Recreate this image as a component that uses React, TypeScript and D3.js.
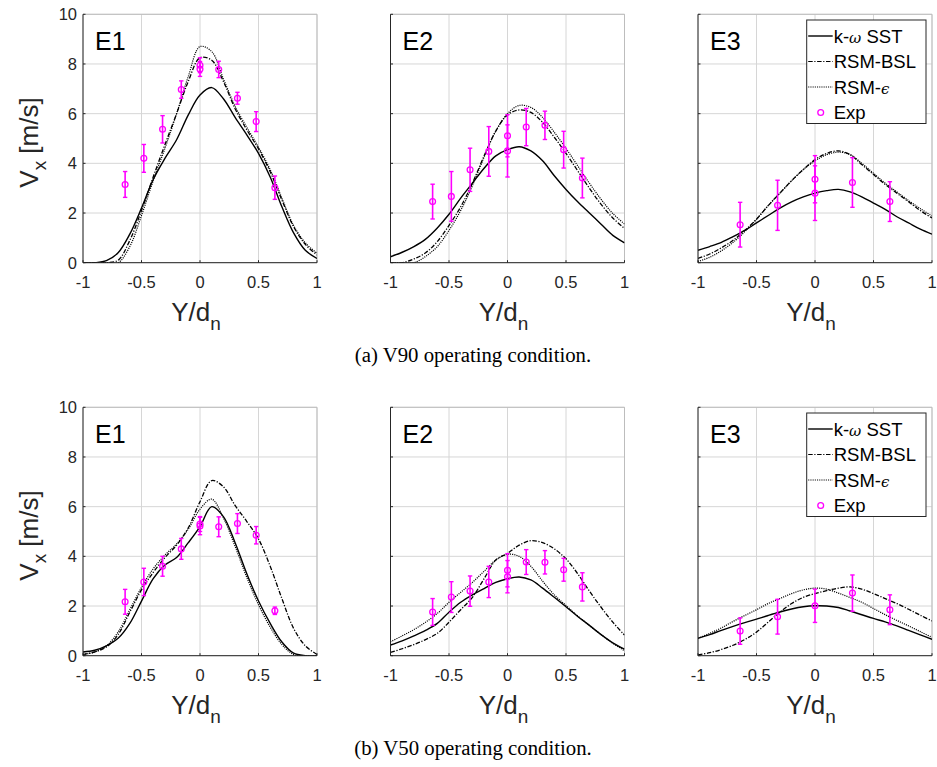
import React from 'react';
import * as d3 from 'd3';

// ---------- data ----------
const xTicks = [-1, -0.5, 0, 0.5, 1];
const xTickLabels = ['-1', '-0.5', '0', '0.5', '1'];
const yTicks = [0, 2, 4, 6, 8, 10];
const yTickLabels = ['0', '2', '4', '6', '8', '10'];

const yGrid = [-1, -0.9, -0.8, -0.7, -0.6, -0.5, -0.4, -0.3, -0.2, -0.1, 0, 0.1, 0.2, 0.3, 0.4, 0.5, 0.6, 0.7, 0.8, 0.9, 1];

// V90 - E1
const v90E1Sst = [0, 0, 0.08, 0.4, 1.15, 2.2, 3.35, 4.2, 4.95, 5.95, 6.75, 7.05, 6.6, 5.85, 5.15, 4.4, 3.45, 2.25, 1.2, 0.5, 0.17];
const v90E1Bsl = [0, 0, 0, 0.1, 0.9, 2.1, 3.45, 4.75, 6.0, 7.3, 8.25, 8.15, 7.3, 6.2, 5.35, 4.58, 3.66, 2.52, 1.45, 0.74, 0.31];
const v90E1Eps = [0, 0, 0, 0, 0.65, 1.9, 3.3, 4.6, 6.0, 7.5, 8.7, 8.5, 7.4, 6.3, 5.45, 4.65, 3.75, 2.6, 1.5, 0.8, 0.38];
// V90 - E2
const v90E2Sst = [0.24, 0.42, 0.65, 0.95, 1.4, 1.95, 2.6, 3.2, 3.8, 4.3, 4.55, 4.67, 4.5, 4.1, 3.5, 2.95, 2.45, 2.0, 1.55, 1.1, 0.8];
const v90E2Bsl = [0, 0, 0.15, 0.4, 0.85, 1.5, 2.25, 3.2, 4.3, 5.3, 5.95, 6.15, 6.05, 5.65, 5.05, 4.4, 3.7, 3.0, 2.35, 1.8, 1.38];
const v90E2Eps = [0, 0, 0, 0.25, 0.65, 1.3, 2.1, 3.1, 4.25, 5.3, 6.0, 6.33, 6.25, 5.85, 5.25, 4.6, 3.9, 3.2, 2.55, 1.98, 1.56];
// V90 - E3
const v90E3Sst = [0.5, 0.65, 0.82, 1.05, 1.3, 1.6, 1.9, 2.2, 2.45, 2.65, 2.8, 2.9, 2.95, 2.85, 2.65, 2.4, 2.15, 1.85, 1.6, 1.35, 1.15];
const v90E3Bsl = [0.17, 0.35, 0.6, 0.9, 1.3, 1.75, 2.3, 2.8, 3.3, 3.75, 4.15, 4.4, 4.5, 4.35, 3.95, 3.55, 3.15, 2.8, 2.45, 2.1, 1.8];
const v90E3Eps = [0.05, 0.22, 0.48, 0.82, 1.25, 1.75, 2.3, 2.8, 3.3, 3.75, 4.1, 4.35, 4.45, 4.35, 4.0, 3.6, 3.2, 2.85, 2.5, 2.18, 1.88];
// V50 - E1
const v50E1Sst = [0.15, 0.22, 0.4, 0.7, 1.3, 2.2, 3.1, 3.65, 3.95, 4.55, 5.2, 6.0, 5.6, 4.55, 3.3, 2.2, 1.3, 0.55, 0.1, 0, 0];
const v50E1Bsl = [0.05, 0.15, 0.35, 0.85, 1.75, 2.65, 3.35, 3.95, 4.45, 5.15, 6.2, 7.05, 6.8, 6.05, 5.4, 4.7, 3.6, 2.3, 1.1, 0.4, 0.05];
const v50E1Eps = [0.05, 0.15, 0.4, 0.95, 1.85, 2.75, 3.5, 4.05, 4.5, 5.1, 5.9, 6.3, 5.55, 4.4, 3.15, 2.05, 1.15, 0.45, 0.05, 0, 0];
// V50 - E2
const v50E2Sst = [0.43, 0.6, 0.8, 1.02, 1.3, 1.75, 2.15, 2.45, 2.7, 2.95, 3.1, 3.17, 3.05, 2.72, 2.35, 1.97, 1.58, 1.22, 0.85, 0.52, 0.26];
const v50E2Bsl = [0.13, 0.28, 0.45, 0.65, 0.9, 1.35, 1.85, 2.35, 3.1, 3.85, 4.12, 4.45, 4.63, 4.55, 4.3, 3.9, 3.3, 2.6, 1.95, 1.35, 0.83];
const v50E2Eps = [0.56, 0.8, 1.05, 1.35, 1.7, 2.15, 2.55, 2.95, 3.4, 3.85, 4.08, 4.0, 3.6, 3.0, 2.45, 2.02, 1.6, 1.22, 0.85, 0.5, 0.2];
// V50 - E3
const v50E3Sst = [0.7, 0.85, 1.02, 1.18, 1.33, 1.47, 1.62, 1.76, 1.88, 1.97, 2.01, 2.0, 1.94, 1.8, 1.65, 1.5, 1.36, 1.2, 1.02, 0.84, 0.66];
const v50E3Bsl = [0.03, 0.12, 0.25, 0.42, 0.65, 0.95, 1.35, 1.75, 2.1, 2.35, 2.5, 2.62, 2.72, 2.77, 2.68, 2.5, 2.3, 2.1, 1.87, 1.63, 1.4];
const v50E3Eps = [0.7, 0.9, 1.12, 1.38, 1.62, 1.85, 2.1, 2.3, 2.5, 2.65, 2.72, 2.68, 2.52, 2.34, 2.15, 1.9, 1.65, 1.42, 1.2, 0.97, 0.74];

// Experimental points
const expY9 = [-0.64, -0.48, -0.32, -0.16, 0, 0, 0.16, 0.32, 0.48, 0.64];
const expY5 = [-0.64, -0.32, 0, 0, 0.32, 0.64];
const expY5b = [-0.64, -0.32, 0, 0.32, 0.64];

const v90E1ExpV = [3.15, 4.2, 5.37, 6.97, 7.95, 7.8, 7.78, 6.62, 5.68, 3.02];
const v90E1ExpErr = [0.52, 0.56, 0.55, 0.35, 0.3, 0.3, 0.33, 0.24, 0.4, 0.47];
const v90E2ExpV = [2.46, 2.67, 3.74, 4.48, 5.11, 4.5, 5.46, 5.53, 4.55, 3.41];
const v90E2ExpErr = [0.7, 1.0, 0.87, 1.0, 0.85, 1.05, 0.75, 0.57, 0.74, 0.8];
const v90E3ExpV = [1.53, 2.31, 3.36, 2.8, 3.23, 2.46];
const v90E3ExpErr = [0.9, 1.01, 0.95, 1.1, 1.0, 0.8];
const v50E1ExpV = [2.17, 2.97, 3.6, 4.3, 5.3, 5.22, 5.19, 5.32, 4.85, 1.81];
const v50E1ExpErr = [0.5, 0.55, 0.4, 0.42, 0.3, 0.35, 0.4, 0.4, 0.35, 0.15];
const v50E2ExpV = [1.76, 2.36, 2.6, 2.97, 3.44, 3.18, 3.77, 3.76, 3.46, 2.77];
const v50E2ExpErr = [0.54, 0.62, 0.61, 0.63, 0.67, 0.65, 0.5, 0.47, 0.46, 0.57];
const v50E3ExpV = [0.99, 1.57, 2.01, 2.52, 1.85];
const v50E3ExpErr = [0.53, 0.7, 0.67, 0.73, 0.6];

const panelLabels = ['E1', 'E2', 'E3'];
const captions = ['(a) V90 operating condition.', '(b) V50 operating condition.'];

// ---------- layout ----------
const W = 937;
const H = 767;
const colLeft = [83, 390.5, 698];
const rowTop = [14.3, 407.3];
const PW = 234;
const PH = 248.4;
const FONT = '"Liberation Sans", Arial, Helvetica, sans-serif';
const TXT = '#262626';
const GRID = '#d6d6d6';
const MAG = '#ff00ff';

type Panel = {
  row: number; col: number;
  sst: number[]; bsl: number[]; eps: number[];
  ey: number[]; ev: number[]; ee: number[];
};

const panels: Panel[] = [
  { row: 0, col: 0, sst: v90E1Sst, bsl: v90E1Bsl, eps: v90E1Eps, ey: expY9, ev: v90E1ExpV, ee: v90E1ExpErr },
  { row: 0, col: 1, sst: v90E2Sst, bsl: v90E2Bsl, eps: v90E2Eps, ey: expY9, ev: v90E2ExpV, ee: v90E2ExpErr },
  { row: 0, col: 2, sst: v90E3Sst, bsl: v90E3Bsl, eps: v90E3Eps, ey: expY5, ev: v90E3ExpV, ee: v90E3ExpErr },
  { row: 1, col: 0, sst: v50E1Sst, bsl: v50E1Bsl, eps: v50E1Eps, ey: expY9, ev: v50E1ExpV, ee: v50E1ExpErr },
  { row: 1, col: 1, sst: v50E2Sst, bsl: v50E2Bsl, eps: v50E2Eps, ey: expY9, ev: v50E2ExpV, ee: v50E2ExpErr },
  { row: 1, col: 2, sst: v50E3Sst, bsl: v50E3Bsl, eps: v50E3Eps, ey: expY5b, ev: v50E3ExpV, ee: v50E3ExpErr },
];

const DASHDOT = '4.5,1.6,1.2,1.6';
const DOTTED = '1.1,1.1';

function PanelView({ p, idx }: { p: Panel; idx: number }) {
  const x0 = colLeft[p.col];
  const y0 = rowTop[p.row];
  const x = d3.scaleLinear().domain([-1, 1]).range([x0, x0 + PW]);
  const y = d3.scaleLinear().domain([0, 10]).range([y0 + PH, y0]);
  const line = d3
    .line<number>()
    .x((_, i) => x(yGrid[i]))
    .y((d) => y(d))
    .curve(d3.curveCatmullRom.alpha(0.5));
  const clipId = `clip${idx}`;
  const showY = p.col === 0;
  const showLegend = p.col === 2;
  const cx = x0 + PW / 2;
  const lx = 806.7;
  const ly = y0 + 5.7;
  const legendRows = [
    { label: 'sst', dash: null },
    { label: 'bsl', dash: DASHDOT },
    { label: 'eps', dash: DOTTED },
  ];
  const LFS = 18.5;
  return (
    <g>
      <defs>
        <clipPath id={clipId}>
          <rect x={x0} y={y0} width={PW} height={PH} />
        </clipPath>
      </defs>
      <rect x={x0} y={y0} width={PW} height={PH} fill="#fff" />
      {/* grid */}
      {xTicks.map((t) => (
        <line key={'gx' + t} x1={x(t)} x2={x(t)} y1={y0} y2={y0 + PH} stroke={GRID} strokeWidth={1} />
      ))}
      {yTicks.map((t) => (
        <line key={'gy' + t} x1={x0} x2={x0 + PW} y1={y(t)} y2={y(t)} stroke={GRID} strokeWidth={1} />
      ))}
      {/* box top/right */}
      <line x1={x0} x2={x0 + PW} y1={y0} y2={y0} stroke="#bdbdbd" strokeWidth={1} />
      <line x1={x0 + PW} x2={x0 + PW} y1={y0} y2={y0 + PH} stroke="#bdbdbd" strokeWidth={1} />
      {/* curves */}
      <g clipPath={`url(#${clipId})`} fill="none" stroke="#000">
        <path d={line(p.sst) || ''} strokeWidth={1.4} />
        <path d={line(p.bsl) || ''} strokeWidth={1.3} strokeDasharray={DASHDOT} />
        <path d={line(p.eps) || ''} strokeWidth={1.2} strokeDasharray={DOTTED} />
      </g>
      {/* experimental */}
      <g stroke={MAG} fill="none">
        {p.ey.map((yy, i) => {
          const px = x(yy);
          const lo = y(p.ev[i] - p.ee[i]);
          const hi = y(p.ev[i] + p.ee[i]);
          return (
            <g key={'e' + i}>
              <line x1={px} x2={px} y1={lo} y2={hi} strokeWidth={1.6} />
              <line x1={px - 2.2} x2={px + 2.2} y1={lo} y2={lo} strokeWidth={1.4} />
              <line x1={px - 2.2} x2={px + 2.2} y1={hi} y2={hi} strokeWidth={1.4} />
              <circle cx={px} cy={y(p.ev[i])} r={2.9} strokeWidth={1.3} />
            </g>
          );
        })}
      </g>
      {/* axes */}
      <line x1={x0} x2={x0} y1={y0} y2={y0 + PH} stroke={TXT} strokeWidth={1} />
      <line x1={x0} x2={x0 + PW} y1={y0 + PH} y2={y0 + PH} stroke={TXT} strokeWidth={1} />
      {xTicks.map((t) => (
        <line key={'tx' + t} x1={x(t)} x2={x(t)} y1={y0 + PH} y2={y0 + PH - 2.5} stroke={TXT} strokeWidth={1} />
      ))}
      {yTicks.map((t) => (
        <line key={'ty' + t} x1={x0} x2={x0 + 2.5} y1={y(t)} y2={y(t)} stroke={TXT} strokeWidth={1} />
      ))}
      {xTicks.map((t, i) => (
        <text key={'lx' + t} x={x(t)} y={y0 + PH + 25} textAnchor="middle" fontFamily={FONT} fontSize={16.5} fill={TXT}>
          {xTickLabels[i]}
        </text>
      ))}
      {showY &&
        yTicks.map((t, i) => (
          <text key={'ly' + t} x={x0 - 6} y={y(t) + 6} textAnchor="end" fontFamily={FONT} fontSize={16.5} fill={TXT}>
            {yTickLabels[i]}
          </text>
        ))}
      {/* x label */}
      <text x={cx - 4} y={y0 + PH + 58} textAnchor="middle" fontFamily={FONT} fontSize={26} fill={TXT}>
        Y/d
        <tspan fontSize={19} dy={9}>n</tspan>
      </text>
      {/* y label */}
      {showY && (
        <text
          transform={`translate(38,${y0 + PH / 2 + 4}) rotate(-90)`}
          textAnchor="middle"
          fontFamily={FONT}
          fontSize={26}
          fill={TXT}
        >
          V<tspan fontSize={19} dy={8}>x</tspan>
          <tspan dy={-8}> [m/s]</tspan>
        </text>
      )}
      {/* panel label */}
      <text x={x0 + 12} y={y0 + 36} fontFamily={FONT} fontSize={25} fill="#000">
        {panelLabels[p.col]}
      </text>
      {/* legend */}
      {showLegend && (
        <g>
          <rect x={lx} y={ly} width={119.3} height={103.5} fill="#fff" stroke={TXT} strokeWidth={1} />
          {legendRows.map((r, i) => (
            <line
              key={'ll' + i}
              x1={lx + 1.5}
              x2={lx + 26}
              y1={ly + 16 + i * 25.5}
              y2={ly + 16 + i * 25.5}
              stroke="#000"
              strokeWidth={r.dash ? 1.2 : 1.4}
              strokeDasharray={r.dash || undefined}
            />
          ))}
          <circle cx={lx + 14} cy={ly + 16 + 3 * 25.5} r={2.9} stroke={MAG} strokeWidth={1.3} fill="none" />
          <text x={lx + 27} y={ly + 22.5} fontFamily={FONT} fontSize={LFS} fill="#000">
            k-<tspan fontStyle="italic" fontFamily="'DejaVu Serif', serif" fontSize={15}>ω</tspan> SST
          </text>
          <text x={lx + 27} y={ly + 22.5 + 25.5} fontFamily={FONT} fontSize={LFS} fill="#000">RSM-BSL</text>
          <text x={lx + 27} y={ly + 22.5 + 51} fontFamily={FONT} fontSize={LFS} fill="#000">
            RSM-<tspan fontStyle="italic" fontFamily="'DejaVu Serif', serif" fontSize={15}>ϵ</tspan>
          </text>
          <text x={lx + 27} y={ly + 22.5 + 76.5} fontFamily={FONT} fontSize={LFS} fill="#000">Exp</text>
        </g>
      )}
    </g>
  );
}

export default function App() {
  return (
    <svg
      width={W}
      height={H}
      viewBox={`0 0 ${W} ${H}`}
      style={{ position: 'absolute', left: 0, top: 0, background: '#fff' }}
    >
      <rect x={0} y={0} width={W} height={H} fill="#fff" />
      {panels.map((p, i) => (
        <PanelView key={i} p={p} idx={i} />
      ))}
      <text x={473} y={362} textAnchor="middle" fontFamily='"Liberation Serif", "Times New Roman", serif' fontSize={20.8} fill="#000">
        {captions[0]}
      </text>
      <text x={473} y={755} textAnchor="middle" fontFamily='"Liberation Serif", "Times New Roman", serif' fontSize={20.8} fill="#000">
        {captions[1]}
      </text>
    </svg>
  );
}
